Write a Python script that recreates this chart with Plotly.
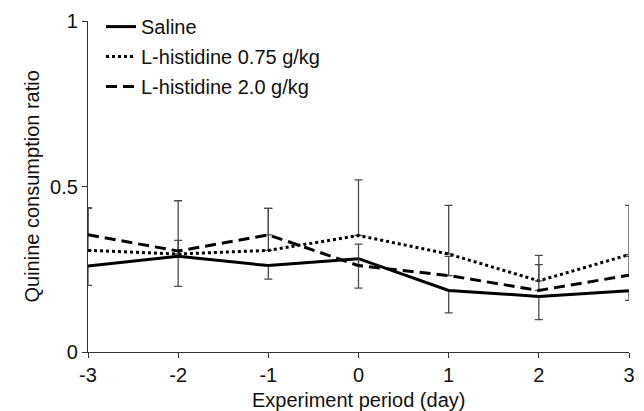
import plotly.graph_objects as go

days = [-3, -2, -1, 0, 1, 2, 3]
saline = [0.260, 0.289, 0.261, 0.282, 0.186, 0.168, 0.185]
his075 = [0.307, 0.296, 0.307, 0.352, 0.296, 0.215, 0.294]
his20 = [0.354, 0.305, 0.354, 0.261, 0.231, 0.186, 0.232]

saline_err_lo = [0.059, 0.091, 0.041, 0.089, 0.068, 0.070, 0.029]
saline_err_hi = [0, 0, 0, 0, 0, 0, 0]
his075_err_hi = [0.128, 0.041, 0.127, 0.168, 0.147, 0.077, 0.149]
his075_err_lo = [0, 0, 0, 0, 0, 0, 0]
his20_err_hi = [0.081, 0.152, 0.080, 0.065, 0.058, 0.078, 0.057]
his20_err_lo = [0, 0, 0, 0, 0, 0, 0]

names = ["Saline", "L-histidine 0.75 g/kg", "L-histidine 2.0 g/kg"]
x_ticks = [-3, -2, -1, 0, 1, 2, 3]
x_ticklabels = ["-3", "-2", "-1", "0", "1", "2", "3"]
y_ticks = [0, 0.5, 1]
y_ticklabels = ["0", "0.5", "1"]
x_title = "Experiment period (day)"
y_title = "Quinine consumption ratio"

FONT = "Liberation Sans, Arial, sans-serif"
FS = 20
ERR = "#4a4a4a"
TXT = "#111111"

fig = go.Figure()
series = [
    (saline, saline_err_hi, saline_err_lo, "solid"),
    (his075, his075_err_hi, his075_err_lo, "3px,3px"),
    (his20, his20_err_hi, his20_err_lo, "11px,6px"),
]
for i, (vals, hi, lo, dash) in enumerate(series):
    fig.add_trace(go.Scatter(
        x=days, y=vals, name=names[i], mode="lines",
        legendgroup=f"g{i}",
        line=dict(color="black", width=3, dash=dash),
        error_y=dict(type="data", array=hi, arrayminus=lo, symmetric=False,
                     color=ERR, thickness=1.3, width=4),
        cliponaxis=False,
        hoverinfo="skip",
    ))

fig.update_layout(
    width=644, height=411,
    margin=dict(l=88, r=15, t=21, b=59, autoexpand=False),
    paper_bgcolor="white", plot_bgcolor="white",
    font=dict(family=FONT, size=FS, color=TXT),
    showlegend=True,
    legend=dict(x=0.024, y=1.042, xanchor="left", yanchor="top",
                bgcolor="rgba(0,0,0,0)", font=dict(size=FS, color=TXT),
                traceorder="grouped", tracegroupgap=1),
    xaxis=dict(range=[-3, 3], tickvals=x_ticks, ticktext=x_ticklabels,
               ticks="outside", ticklen=5,
               tickcolor="#333", showline=True, linecolor="#333", linewidth=1.3,
               showgrid=False, zeroline=False, automargin=False,
               tickfont=dict(size=FS, color=TXT)),
    yaxis=dict(range=[0, 1], tickvals=y_ticks, ticktext=y_ticklabels,
               ticks="outside", ticklen=5, tickcolor="#333",
               showline=True, linecolor="#333", linewidth=1.3,
               showgrid=False, zeroline=False, automargin=False,
               tickfont=dict(size=FS, color=TXT)),
    annotations=[
        dict(text=x_title, xref="paper", yref="paper", x=0.5, y=0,
             xanchor="center", yanchor="middle", yshift=-48, showarrow=False,
             font=dict(size=FS, color=TXT)),
        dict(text=y_title, xref="paper", yref="paper", x=0, y=0.5,
             xanchor="center", yanchor="middle", xshift=-57, textangle=-90,
             showarrow=False, font=dict(size=FS, color=TXT)),
    ],
)

fig.write_html("out.html", config={"displayModeBar": False},
               post_script="document.body.style.margin='0';")
